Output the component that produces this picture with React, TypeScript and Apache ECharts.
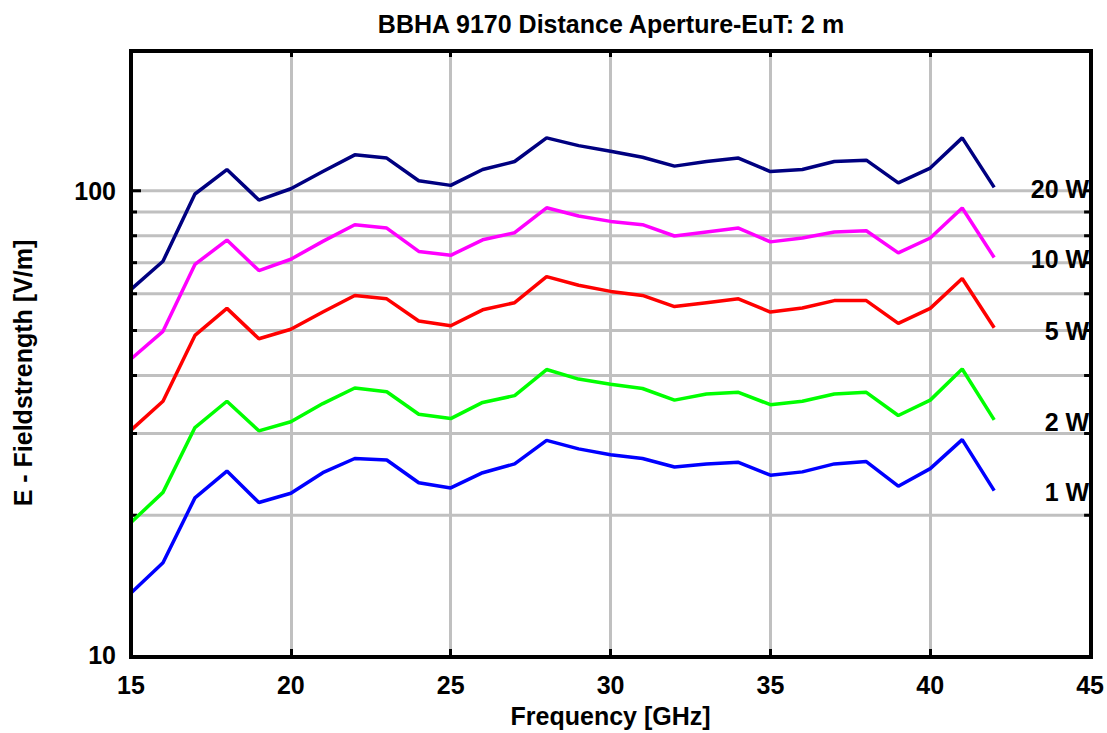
import React, { useEffect, useRef } from "react";
import * as echarts from "echarts";

const frequencies = [15, 16, 17, 18, 19, 20, 21, 22, 23, 24, 25, 26, 27, 28, 29, 30, 31, 32, 33, 34, 35, 36, 37, 38, 39, 40, 41, 42];

const field20W = [61.3, 70.5, 98.4, 111.1, 95.5, 101.0, 110.0, 119.5, 117.6, 105.1, 102.7, 111.1, 115.6, 130.0, 125.1, 121.7, 118.1, 113.0, 115.6, 117.6, 110.0, 111.1, 115.6, 116.4, 104.0, 111.9, 130.0, 101.7];
const field10W = [43.4, 49.8, 69.4, 78.3, 67.3, 71.2, 77.8, 84.5, 83.1, 74.0, 72.6, 78.4, 81.2, 91.9, 88.2, 85.9, 84.5, 79.9, 81.5, 83.1, 77.6, 79.1, 81.5, 82.0, 73.5, 79.1, 91.8, 71.8];
const field5W = [30.5, 35.2, 48.8, 55.8, 48.0, 50.3, 54.8, 59.5, 58.5, 52.4, 51.2, 55.4, 57.4, 65.3, 62.6, 60.7, 59.5, 56.3, 57.4, 58.5, 54.8, 55.9, 58.0, 58.0, 51.8, 55.8, 64.7, 50.7];
const field2W = [19.3, 22.4, 30.9, 35.2, 30.4, 31.8, 34.8, 37.6, 36.9, 33.0, 32.3, 35.0, 36.2, 41.2, 39.3, 38.3, 37.5, 35.4, 36.5, 36.8, 34.6, 35.2, 36.5, 36.8, 32.8, 35.4, 41.3, 32.1];
const field1W = [13.6, 15.8, 21.8, 24.9, 21.3, 22.3, 24.7, 26.5, 26.3, 23.5, 22.9, 24.7, 25.8, 29.0, 27.8, 27.0, 26.5, 25.4, 25.8, 26.0, 24.4, 24.8, 25.8, 26.1, 23.1, 25.2, 29.1, 22.6];

const seriesNames = ["20 W", "10 W", "5 W", "2 W", "1 W"];
const seriesColors = ["#000080", "#ff00ff", "#ff0000", "#00ff00", "#0000ff"];
const seriesValues = [field20W, field10W, field5W, field2W, field1W];

// right-hand annotation labels and the field strength they sit at
const powerLabels = ["20 W", "10 W", "5 W", "2 W", "1 W"];
const powerLabelValues = [101, 71.4, 49.8, 31.7, 22.5];

const xMin = 15;
const xMax = 45;
const xInterval = 5;
const yMin = 10;
const yMax = 200;
const yGridValues = [20, 30, 40, 50, 60, 70, 80, 90, 100];
const yLabelValues = [10, 100];

const titleText = "BBHA 9170 Distance Aperture-EuT: 2 m";
const xName = "Frequency [GHz]";
const yName = "E - Fieldstrength [V/m]";

const FONT = "'Liberation Sans', Arial, Helvetica, sans-serif";
const FS = 25;

export default function App() {
  const ref = useRef<HTMLDivElement>(null);

  useEffect(() => {
    if (!ref.current) return;
    const chart = echarts.init(ref.current, null, { renderer: "svg" });
    const gridLeft = 131;
    const gridTop = 51;
    const gridWidth = 960;
    const gridHeight = 606;

    const lineSeries = seriesValues.map((vals, k) => ({
      name: seriesNames[k],
      type: "line",
      data: frequencies.map((f, i) => [f, vals[i]]),
      showSymbol: false,
      symbol: "none",
      lineStyle: { color: seriesColors[k], width: 3.5 },
      itemStyle: { color: seriesColors[k] },
      z: 3,
      silent: true,
    }));

    const option: any = {
      animation: false,
      backgroundColor: "#ffffff",
      grid: { left: gridLeft, top: gridTop, width: gridWidth, height: gridHeight, show: false },
      xAxis: [
        {
          type: "value",
          min: xMin,
          max: xMax,
          interval: xInterval,
          position: "bottom",
          axisLine: { show: false },
          axisTick: { show: true, inside: true, length: 6, lineStyle: { color: "#000", width: 3 } },
          splitLine: { show: true, lineStyle: { color: "#c0c0c0", width: 3 } },
          axisLabel: { color: "#000", fontSize: FS, fontWeight: "bold", fontFamily: FONT, margin: 17 },
          name: xName,
          nameLocation: "middle",
          nameGap: 48,
          nameTextStyle: { color: "#000", fontSize: FS, fontWeight: "bold", fontFamily: FONT },
        },
        {
          type: "value",
          min: xMin,
          max: xMax,
          interval: xInterval,
          position: "top",
          axisLine: { show: false },
          axisTick: { show: true, inside: true, length: 6, lineStyle: { color: "#000", width: 3 } },
          splitLine: { show: false },
          axisLabel: { show: false },
        },
      ],
      yAxis: {
        type: "log",
        logBase: 10,
        min: yMin,
        max: yMax,
        axisLine: { show: false },
        axisTick: { show: false },
        splitLine: { show: false },
        axisLabel: {
          color: "#000",
          fontSize: FS,
          fontWeight: "bold",
          fontFamily: FONT,
          margin: 15,
          showMaxLabel: false,
          formatter: (v: number) => (yLabelValues.some((t) => Math.abs(t - v) < 1e-6) ? String(v) : ""),
        },
      },
      graphic: [
        {
          type: "text",
          x: gridLeft + gridWidth / 2,
          y: 24,
          z: 100,
          style: {
            text: titleText,
            align: "center",
            verticalAlign: "middle",
            fill: "#000",
            font: `bold ${FS}px ${FONT}`,
          },
        },
        {
          type: "text",
          x: 23,
          y: 373,
          rotation: Math.PI / 2,
          z: 100,
          style: {
            text: yName,
            align: "center",
            verticalAlign: "middle",
            fill: "#000",
            font: `bold ${FS}px ${FONT}`,
          },
        },
        {
          type: "rect",
          z: 100,
          silent: true,
          shape: { x: gridLeft, y: gridTop, width: gridWidth, height: gridHeight },
          style: { fill: "none", stroke: "#000", lineWidth: 4 },
        },
      ],
      series: [
        {
          type: "custom",
          name: "ygrid",
          z: 1,
          silent: true,
          clip: false,
          data: yGridValues.map((v) => [xMin, v]),
          encode: { x: 0, y: 1 },
          renderItem: (params: any, api: any) => {
            const cs = params.coordSys;
            const val = api.value(1);
            const y = api.coord([api.value(0), val])[1];
            const x0 = cs.x;
            const x1 = cs.x + cs.width;
            const major = Math.abs(val - 100) < 1e-6;
            return {
              type: "group",
              children: [
                { type: "line", shape: { x1: x0, y1: y, x2: x1, y2: y }, style: { stroke: "#c0c0c0", lineWidth: 3 } },
                { type: "line", shape: { x1: x0, y1: y, x2: x0 + (major ? 10 : 6), y2: y }, style: { stroke: "#000", lineWidth: 3 } },
                { type: "line", shape: { x1: x1 - 6, y1: y, x2: x1, y2: y }, style: { stroke: "#000", lineWidth: 3 } },
              ],
            };
          },
        },
        ...lineSeries,
        {
          type: "custom",
          name: "powerLabels",
          z: 5,
          silent: true,
          clip: false,
          data: powerLabelValues.map((v, i) => [xMax, v, i]),
          encode: { x: 0, y: 1 },
          renderItem: (params: any, api: any) => {
            const cs = params.coordSys;
            const y = api.coord([api.value(0), api.value(1)])[1];
            return {
              type: "text",
              x: cs.x + cs.width - 1,
              y,
              style: {
                text: powerLabels[api.value(2)],
                align: "right",
                verticalAlign: "middle",
                fill: "#000",
                font: `bold ${FS}px ${FONT}`,
              },
            };
          },
        },
      ],
    };

    chart.setOption(option);
    return () => chart.dispose();
  }, []);

  return (
    <div
      ref={ref}
      style={{ position: "fixed", left: 0, top: 0, width: 1107, height: 733, background: "#fff" }}
    />
  );
}
